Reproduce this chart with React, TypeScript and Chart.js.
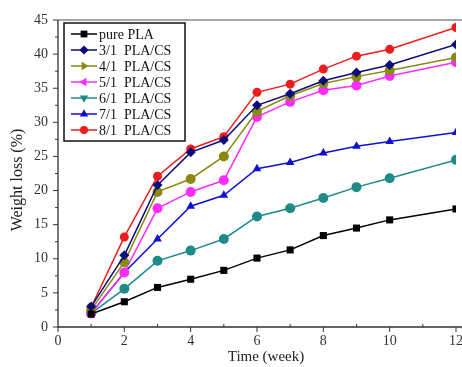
import React, { useEffect, useRef } from "react";
import { Chart, registerables } from "chart.js";

Chart.register(...registerables);

const weeks = [1, 2, 3, 4, 5, 6, 7, 8, 9, 10, 12];
const purePLA = [1.9, 3.7, 5.8, 7.0, 8.3, 10.1, 11.3, 13.4, 14.5, 15.7, 17.3];
const pla31 = [3.0, 10.5, 20.8, 25.6, 27.4, 32.5, 34.2, 36.1, 37.3, 38.4, 41.4];
const pla41 = [2.5, 9.5, 19.8, 21.7, 25.0, 31.6, 33.9, 35.7, 36.7, 37.6, 39.5];
const pla51 = [2.0, 8.0, 17.4, 19.8, 21.5, 30.8, 33.0, 34.7, 35.4, 36.8, 38.8];
const pla61 = [2.0, 5.6, 9.7, 11.2, 12.9, 16.2, 17.4, 18.9, 20.5, 21.8, 24.5];
const pla71 = [2.0, 8.0, 12.9, 17.7, 19.3, 23.2, 24.1, 25.5, 26.5, 27.2, 28.5];
const pla81 = [2.9, 13.2, 22.1, 26.1, 27.9, 34.4, 35.6, 37.8, 39.7, 40.7, 43.9];

const seriesNames = ["pure PLA", "3/1  PLA/CS", "4/1  PLA/CS", "5/1  PLA/CS", "6/1  PLA/CS", "7/1  PLA/CS", "8/1  PLA/CS"];
const seriesColors = ["#000000", "#0d0d7a", "#8a8a10", "#ff2bff", "#1f8a8a", "#1010d0", "#ee1c1c"];
const seriesMarkers = ["rect", "rectRot", "triangleRight", "triangleLeft", "triangleDown", "triangle", "circle"];
const seriesValues = [purePLA, pla31, pla41, pla51, pla61, pla71, pla81];
const xTitle = "Time (week)";
const yTitle = "Weight loss (%)";

const FONT = "'Liberation Serif', 'DejaVu Serif', serif";

function drawMarker(ctx: CanvasRenderingContext2D, style: string, x: number, y: number, r: number, color: string) {
  ctx.save();
  ctx.fillStyle = color;
  ctx.beginPath();
  if (style === "rect") {
    ctx.rect(x - r * 0.85, y - r * 0.85, r * 1.7, r * 1.7);
  } else if (style === "rectRot") {
    ctx.moveTo(x, y - r * 1.15);
    ctx.lineTo(x + r * 1.15, y);
    ctx.lineTo(x, y + r * 1.15);
    ctx.lineTo(x - r * 1.15, y);
  } else if (style === "circle") {
    ctx.arc(x, y, r, 0, Math.PI * 2);
  } else {
    const ang: Record<string, number> = { triangle: -90, triangleDown: 90, triangleRight: 0, triangleLeft: 180 };
    const a0 = (ang[style] * Math.PI) / 180;
    for (let i = 0; i < 3; i++) {
      const a = a0 + (i * 2 * Math.PI) / 3;
      const px = x + Math.cos(a) * r * 1.2;
      const py = y + Math.sin(a) * r * 1.2;
      if (i === 0) ctx.moveTo(px, py);
      else ctx.lineTo(px, py);
    }
  }
  ctx.closePath();
  ctx.fill();
  ctx.restore();
}

const decorPlugin = {
  id: "decor",
  afterDatasetsDraw(chart: any) {
    const ctx: CanvasRenderingContext2D = chart.ctx;
    const area = chart.chartArea;
    const xs = chart.scales.x;
    const ys = chart.scales.y;
    ctx.save();
    // top border
    ctx.strokeStyle = "#8a8a8a";
    ctx.lineWidth = 1.5;
    ctx.beginPath();
    ctx.moveTo(area.left, area.top);
    ctx.lineTo(area.right + 10, area.top);
    ctx.stroke();
    // axes lines
    ctx.strokeStyle = "#333333";
    ctx.lineWidth = 1.3;
    ctx.beginPath();
    ctx.moveTo(area.left, area.top);
    ctx.lineTo(area.left, area.bottom);
    ctx.lineTo(area.right + 10, area.bottom);
    ctx.stroke();
    // x ticks
    ctx.lineWidth = 1;
    for (let v = 0; v <= 12; v++) {
      const px = xs.getPixelForValue(v);
      ctx.beginPath();
      if (v % 2 === 0) {
        ctx.moveTo(px, area.bottom);
        ctx.lineTo(px, area.bottom + 5);
      } else {
        ctx.moveTo(px, area.bottom);
        ctx.lineTo(px, area.bottom - 3);
      }
      ctx.stroke();
    }
    // y ticks
    for (let v = 0; v <= 45; v += 2.5) {
      const py = ys.getPixelForValue(v);
      ctx.beginPath();
      if (v % 5 === 0) {
        ctx.moveTo(area.left, py);
        ctx.lineTo(area.left - 5, py);
      } else {
        ctx.moveTo(area.left, py);
        ctx.lineTo(area.left - 3, py);
      }
      ctx.stroke();
    }
    // axis titles
    ctx.fillStyle = "#222222";
    ctx.textAlign = "center";
    ctx.textBaseline = "middle";
    ctx.font = `15px ${FONT}`;
    ctx.fillText(xTitle, 266, 357);
    ctx.save();
    ctx.translate(18, 180);
    ctx.rotate(-Math.PI / 2);
    ctx.font = `16px ${FONT}`;
    ctx.fillText(yTitle, 0, 0);
    ctx.restore();
    // legend
    const lx = 64, ly = 23, lw = 121, lh = 118;
    ctx.fillStyle = "#ffffff";
    ctx.fillRect(lx, ly, lw, lh);
    ctx.strokeStyle = "#111111";
    ctx.lineWidth = 1.5;
    ctx.strokeRect(lx, ly, lw, lh);
    ctx.font = `14px ${FONT}`;
    ctx.textBaseline = "middle";
    ctx.textAlign = "left";
    for (let i = 0; i < seriesNames.length; i++) {
      const yy = ly + 11 + i * 16;
      ctx.strokeStyle = seriesColors[i];
      ctx.lineWidth = 1.5;
      ctx.beginPath();
      ctx.moveTo(lx + 7, yy);
      ctx.lineTo(lx + 33, yy);
      ctx.stroke();
      drawMarker(ctx, seriesMarkers[i], lx + 20, yy, 4, seriesColors[i]);
      ctx.fillStyle = "#111111";
      ctx.fillText(seriesNames[i], lx + 35, yy + 1);
    }
    ctx.restore();
  },
};

export default function App() {
  const ref = useRef<HTMLCanvasElement | null>(null);
  useEffect(() => {
    if (!ref.current) return;
    const datasets = seriesNames.map((name, i) => ({
      label: name,
      data: weeks.map((w, j) => ({ x: w, y: seriesValues[i][j] })),
      borderColor: seriesColors[i],
      backgroundColor: seriesColors[i],
      borderWidth: 1.5,
      pointStyle: seriesMarkers[i],
      pointRadius: seriesMarkers[i] === "circle" ? 4.5 : 5,
      pointBorderWidth: 0,
      tension: 0,
    }));
    const chart = new Chart(ref.current, {
      type: "line",
      data: { datasets },
      options: {
        animation: false,
        responsive: false,
        maintainAspectRatio: false,
        layout: { padding: { top: 20, right: 6, left: 0, bottom: 0 } },
        plugins: { legend: { display: false }, tooltip: { enabled: false } },
        scales: {
          x: {
            type: "linear",
            min: 0,
            max: 12,
            grid: { display: false, drawTicks: false },
            border: { display: false },
            ticks: {
              stepSize: 2,
              color: "#333",
              font: { family: FONT, size: 14 },
              padding: 6,
              maxRotation: 0,
            },
            title: { display: false },
            afterFit(scale: any) {
              scale.height = 40;
              scale.paddingLeft = 0;
              scale.paddingRight = 0;
            },
          },
          y: {
            min: 0,
            max: 45,
            grid: { display: false, drawTicks: false },
            border: { display: false },
            ticks: {
              stepSize: 5,
              color: "#333",
              font: { family: FONT, size: 14 },
              padding: 10,
            },
            title: { display: false },
            afterFit(scale: any) {
              scale.width = 58;
              scale.paddingTop = 0;
              scale.paddingBottom = 0;
            },
          },
        },
      },
      plugins: [decorPlugin],
    } as any);
    return () => chart.destroy();
  }, []);
  return (
    <div style={{ position: "fixed", left: 0, top: 0, width: 462, height: 367, background: "#fff", overflow: "hidden" }}>
      <canvas ref={ref} width={462} height={367} style={{ width: 462, height: 367, display: "block" }} />
    </div>
  );
}
